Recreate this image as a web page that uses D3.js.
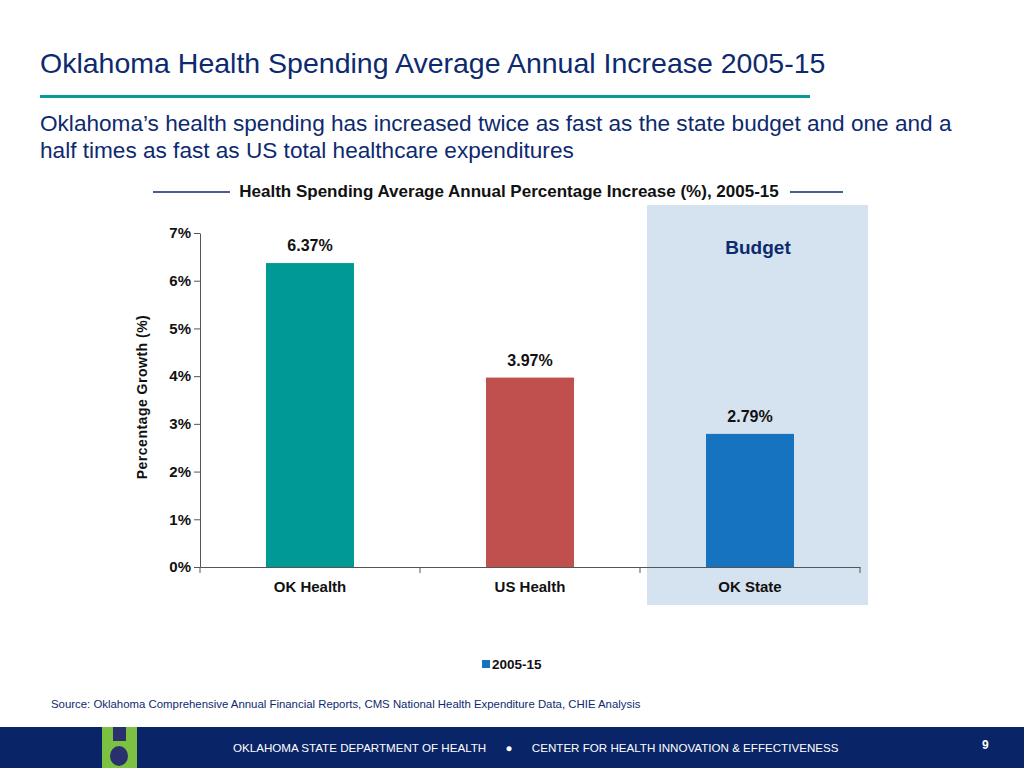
<!DOCTYPE html>
<html><head><meta charset="utf-8">
<script src="https://cdn.jsdelivr.net/npm/d3@7"></script>
<style>body{margin:0;background:#fff;font-family:"Liberation Sans",Arial,sans-serif}</style>
</head><body>
<script>
// chart data
const categories = ["OK Health", "US Health", "OK State"];
const values = [6.37, 3.97, 2.79];
const barColors = ["#009a96", "#c0504d", "#1673bf"];
const yTicks = [0, 1, 2, 3, 4, 5, 6, 7];

const W = 1024, H = 768;
const svg = d3.select("body").append("svg").attr("width", W).attr("height", H);
const navy = "#0d2a6e";

svg.append("text").attr("x", 40).attr("y", 73).attr("font-size", 28.5).attr("fill", navy)
  .text("Oklahoma Health Spending Average Annual Increase 2005-15");
svg.append("rect").attr("x", 40).attr("y", 95).attr("width", 770).attr("height", 3).attr("fill", "#0a9a96");
svg.append("text").attr("x", 40).attr("y", 131).attr("font-size", 22.6).attr("fill", navy)
  .text("Oklahoma’s health spending has increased twice as fast as the state budget and one and a");
svg.append("text").attr("x", 40).attr("y", 158).attr("font-size", 22.6).attr("fill", navy)
  .text("half times as fast as US total healthcare expenditures");

// chart title with rules
svg.append("line").attr("x1", 153).attr("x2", 230).attr("y1", 192).attr("y2", 192).attr("stroke", navy).attr("stroke-width", 1.3);
svg.append("line").attr("x1", 790).attr("x2", 843).attr("y1", 192).attr("y2", 192).attr("stroke", navy).attr("stroke-width", 1.3);
svg.append("text").attr("x", 509).attr("y", 197).attr("text-anchor", "middle").attr("font-size", 17)
  .attr("font-weight", "bold").attr("fill", "#111").text("Health Spending Average Annual Percentage Increase (%), 2005-15");

const x = d3.scaleBand().domain(categories).range([200, 860]).paddingInner(0).paddingOuter(0);
const y = d3.scaleLinear().domain([0, 7]).range([567, 233]);

// budget highlight
svg.append("rect").attr("x", x("OK State") + 7).attr("y", 205).attr("width", 221).attr("height", 400).attr("fill", "#d5e2ef");
svg.append("text").attr("x", x("OK State") + x.bandwidth() / 2 + 8).attr("y", 254).attr("text-anchor", "middle")
  .attr("font-size", 19).attr("font-weight", "bold").attr("fill", navy).text("Budget");

const yAxis = svg.append("g").attr("transform", "translate(200,0)")
  .call(d3.axisLeft(y).tickValues(yTicks).tickFormat(d => d + "%").tickSize(6).tickSizeOuter(0));
const xAxis = svg.append("g").attr("transform", "translate(0,567)")
  .call(d3.axisBottom(x).tickSize(0).tickSizeOuter(0));
[yAxis, xAxis].forEach(a => {
  a.selectAll("path,line").attr("stroke", "#555");
  a.selectAll("text").attr("font-size", 15).attr("font-weight", "bold").attr("fill", "#111")
    .attr("font-family", "Liberation Sans, Arial, sans-serif");
});
yAxis.selectAll("text").attr("x", -9);
xAxis.selectAll("text").attr("dy", "1.45em");
// category separators
xAxis.selectAll(".sep").data(categories.concat(["end"])).join("line")
  .attr("x1", (d, i) => 200 + i * x.bandwidth()).attr("x2", (d, i) => 200 + i * x.bandwidth())
  .attr("y1", 0).attr("y2", 6).attr("stroke", "#555");

const bw = 88;
svg.selectAll(".bar").data(values).join("rect")
  .attr("x", (d, i) => x(categories[i]) + x.bandwidth() / 2 - bw / 2)
  .attr("y", d => y(d)).attr("width", bw).attr("height", d => y(0) - y(d))
  .attr("fill", (d, i) => barColors[i]);
svg.selectAll(".lbl").data(values).join("text")
  .attr("x", (d, i) => x(categories[i]) + x.bandwidth() / 2).attr("y", d => y(d) - 12)
  .attr("text-anchor", "middle").attr("font-size", 16).attr("font-weight", "bold").attr("fill", "#111")
  .text(d => d.toFixed(2) + "%");

svg.append("text").attr("transform", "translate(147,397) rotate(-90)").attr("text-anchor", "middle")
  .attr("font-size", 14).attr("font-weight", "bold").attr("fill", "#111").attr("letter-spacing", 0.5)
  .text("Percentage Growth (%)");

// legend
svg.append("rect").attr("x", 482).attr("y", 660).attr("width", 8).attr("height", 8).attr("fill", barColors[2]);
svg.append("text").attr("x", 492).attr("y", 669).attr("font-size", 13.5).attr("font-weight", "bold").attr("fill", "#111").text("2005-15");

svg.append("text").attr("x", 51).attr("y", 708).attr("font-size", 11.4).attr("fill", navy)
  .text("Source: Oklahoma Comprehensive Annual Financial Reports, CMS National Health Expenditure Data, CHIE Analysis");

// footer
svg.append("rect").attr("x", 0).attr("y", 727).attr("width", W).attr("height", 41).attr("fill", "#0a2468");
svg.append("rect").attr("x", 102).attr("y", 727).attr("width", 35).attr("height", 41).attr("fill", "#7dc142");
svg.append("rect").attr("x", 113).attr("y", 727).attr("width", 13).attr("height", 14).attr("fill", "#2a2f6e");
svg.append("ellipse").attr("cx", 119).attr("cy", 756).attr("rx", 9).attr("ry", 10).attr("fill", "#2a2f6e");
svg.append("text").attr("x", 233).attr("y", 752).attr("font-size", 11.6).attr("fill", "#fff")
  .text("OKLAHOMA STATE DEPARTMENT OF HEALTH      ●      CENTER FOR HEALTH INNOVATION & EFFECTIVENESS").style("white-space", "pre");
svg.append("text").attr("x", 982).attr("y", 749).attr("font-size", 12).attr("font-weight", "bold").attr("fill", "#fff").text("9");
</script>
</body></html>
